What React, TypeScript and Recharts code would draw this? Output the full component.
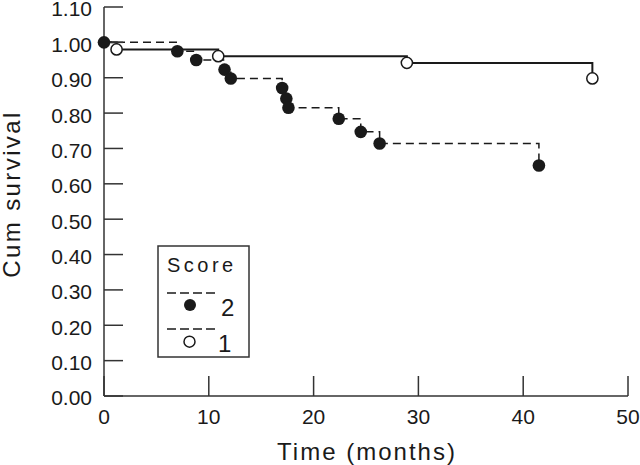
import { LineChart, Line, XAxis, YAxis, Legend } from 'recharts'

// Kaplan-Meier steps (months, cumulative survival)
const score2Months = [0, 7.0, 8.8, 11.5, 12.1, 17.0, 17.4, 17.6, 22.4, 24.5, 26.3, 41.5]
const score2Survival = [1.0, 0.975, 0.95, 0.923, 0.898, 0.871, 0.841, 0.815, 0.784, 0.747, 0.714, 0.652]

const score1Months = [0, 1.2, 10.9, 28.9, 46.6]
const score1Survival = [1.0, 0.98, 0.961, 0.942, 0.898]

const seriesNames = ['2', '1']
const legendTitle = 'Score'

const monthTicks = [0, 10, 20, 30, 40, 50]
const survivalTicks = [0, 0.1, 0.2, 0.3, 0.4, 0.5, 0.6, 0.7, 0.8, 0.9, 1.0, 1.1]

const toRows = (months: number[], surv: number[]) =>
  months.map((t, i) => ({ t, s: surv[i] }))

const score2 = toRows(score2Months, score2Survival)
const score1 = toRows(score1Months, score1Survival)

const INK = '#1a1a1a'
const AXIS = '#333'
const FONT = '"Liberation Sans", Arial, Helvetica, sans-serif'

function FilledDot(props: any) {
  const { cx, cy, index } = props
  if (cx == null || cy == null) return <g key={index} />
  return <circle key={index} cx={cx} cy={cy} r={6.3} fill={INK} stroke="none" />
}

function OpenDot(props: any) {
  const { cx, cy, index } = props
  // first point is the start of the curve, no marker there
  if (cx == null || cy == null || index === 0) return <g key={index} />
  return <circle key={index} cx={cx} cy={cy} r={5.6} fill="#fff" stroke={INK} strokeWidth={1.5} />
}

const renderYTitle = () => (
  <text
    x={20}
    y={194}
    transform="rotate(-90 20 194)"
    textAnchor="middle"
    fill={INK}
    fontSize={24}
    letterSpacing={2.4}
    fontFamily={FONT}
  >
    Cum survival
  </text>
)

const renderXTitle = () => (
  <text
    x={367}
    y={460}
    textAnchor="middle"
    fill={INK}
    fontSize={24}
    letterSpacing={2}
    fontFamily={FONT}
  >
    Time (months)
  </text>
)

function ScoreLegend() {
  return (
    <svg width={93} height={114} style={{ display: 'block' }}>
      <rect x={1} y={1} width={91} height={111} fill="#fff" stroke={AXIS} strokeWidth={1.5} />
      <text x={10} y={27} fontSize={20} letterSpacing={3.5} fill={INK} fontFamily={FONT}>
        {legendTitle}
      </text>
      {seriesNames.map((name, i) => {
        const top = 48 + i * 36
        return (
          <g key={name}>
            <line x1={10} x2={58} y1={top} y2={top} stroke={INK} strokeWidth={1.3} strokeDasharray="9 4" />
            {i === 0 ? (
              <circle cx={33} cy={top + 12} r={6} fill={INK} />
            ) : (
              <circle cx={32.5} cy={top + 12.7} r={5.5} fill="#fff" stroke={INK} strokeWidth={1.5} />
            )}
            <text x={i === 0 ? 64 : 61} y={top + 23} fontSize={24} fill={INK} fontFamily={FONT}>
              {name}
            </text>
          </g>
        )
      })}
    </svg>
  )
}

export default function App() {
  return (
    <div style={{ position: 'absolute', left: 0, top: 0, width: 640, height: 465, background: '#fff' }}>
      <LineChart width={640} height={465} margin={{ top: 7, right: 12, bottom: 0, left: 0 }}>
        <XAxis
          type="number"
          dataKey="t"
          domain={[0, 50]}
          ticks={monthTicks}
          interval={0}
          height={69}
          tickSize={-20}
          tickMargin={33}
          axisLine={{ stroke: AXIS, strokeWidth: 1.5 }}
          tickLine={{ stroke: AXIS, strokeWidth: 1.5 }}
          tick={{ fill: INK, fontSize: 21, fontFamily: FONT }}
          label={renderXTitle}
        />
        <YAxis
          type="number"
          domain={[0, 1.1]}
          ticks={survivalTicks}
          interval={0}
          width={104}
          tickSize={-19}
          tickMargin={31}
          tickFormatter={(v: number) => v.toFixed(2)}
          axisLine={{ stroke: AXIS, strokeWidth: 1.5 }}
          tickLine={{ stroke: AXIS, strokeWidth: 1.5 }}
          tick={{ fill: INK, fontSize: 21, fontFamily: FONT, dy: 2 }}
          label={renderYTitle}
        />
        <Legend
          layout="vertical"
          align="center"
          verticalAlign="middle"
          wrapperStyle={{ position: 'absolute', left: 157, top: 245, width: 93, height: 114 }}
          content={() => <ScoreLegend />}
        />
        <Line
          name={seriesNames[0]}
          data={score2}
          dataKey="s"
          type="stepAfter"
          stroke={INK}
          strokeWidth={1.5}
          strokeDasharray="8 5"
          dot={FilledDot}
          activeDot={false}
          isAnimationActive={false}
        />
        <Line
          name={seriesNames[1]}
          data={score1}
          dataKey="s"
          type="stepAfter"
          stroke={INK}
          strokeWidth={2}
          dot={OpenDot}
          activeDot={false}
          isAnimationActive={false}
        />
      </LineChart>
    </div>
  )
}
